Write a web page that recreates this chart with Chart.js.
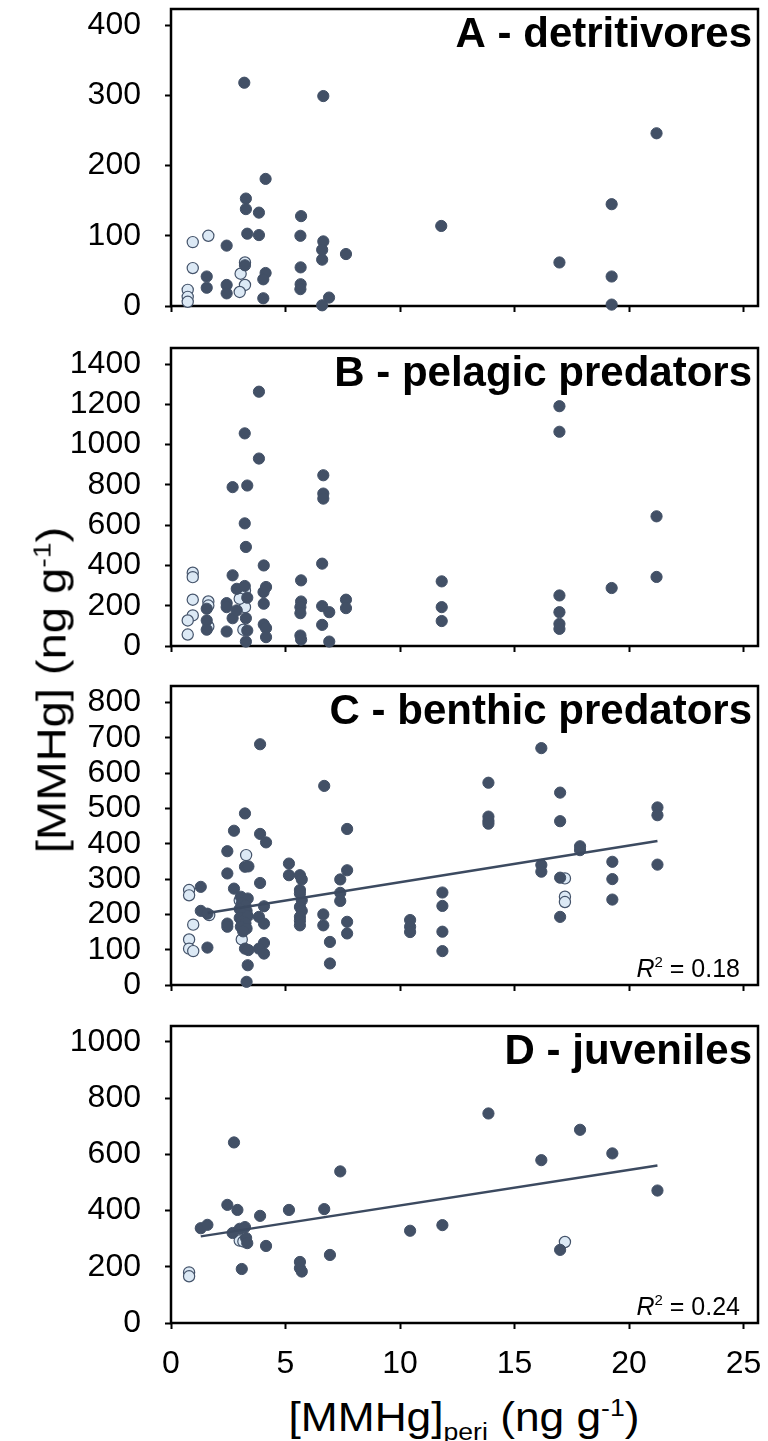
<!DOCTYPE html>
<html>
<head>
<meta charset="utf-8">
<script src="https://cdn.jsdelivr.net/npm/chart.js@4.4.1/dist/chart.umd.min.js"></script>
<style>
  body { margin: 0; background: #fff; }
  #page { position: relative; width: 768px; height: 1441px; font-family: "Liberation Sans", Arial, sans-serif; color: #000; }
  .panel { position: absolute; left: 0; width: 768px; }
  .ytitle { position: absolute; left: 52px; top: 690px; transform: translate(-50%, -50%) rotate(-90deg) scaleX(1.15); font-size: 41px; white-space: nowrap; line-height: 1; }
  .xtitle { position: absolute; left: 464px; top: 1397px; transform: translateX(-50%) scaleX(1.08); font-size: 41px; white-space: nowrap; line-height: 1; }
  sup, sub { font-size: 0.6em; line-height: 0; }
</style>
</head>
<body>
<div id="page">
  <div class="panel" id="wrap-a"><canvas id="chart-a"></canvas></div>
  <div class="panel" id="wrap-b"><canvas id="chart-b"></canvas></div>
  <div class="panel" id="wrap-c"><canvas id="chart-c"></canvas></div>
  <div class="panel" id="wrap-d"><canvas id="chart-d"></canvas></div>
  <div class="ytitle">[MMHg] (ng g<sup>-1</sup>)</div>
  <div class="xtitle">[MMHg]<sub>peri</sub> (ng g<sup>-1</sup>)</div>
</div>
<script>
const FONT = '"Liberation Sans", Arial, sans-serif';
const DARK = '#425066';
const LIGHT = '#dce9f5';

// x axis shared by all panels: [MMHg]peri
const xTicks = [0, 5, 10, 15, 20, 25];

// A - detritivores
const aDarkX = [3.2, 6.65, 4.13, 3.27, 3.27, 3.84, 5.68, 3.33, 3.84, 5.65, 2.43, 6.65, 6.6, 7.64, 6.6, 3.23, 1.56, 4.13, 4.03, 5.66, 5.66, 5.65, 1.56, 2.43, 2.43, 4.03, 6.9, 6.6, 11.8, 21.2, 19.24, 16.96, 19.24, 19.24];
const aDarkY = [318, 299, 181, 153, 138, 133, 128, 103, 101, 100, 86, 92, 80, 74, 66, 58, 42, 47, 38, 55, 31, 24, 26, 30, 18, 11, 12, 1, 114, 246, 145, 62, 42, 2];
const aLightX = [0.95, 1.63, 0.95, 0.73, 0.73, 0.73, 3.23, 3.04, 3.23, 3.0];
const aLightY = [91, 100, 54, 23, 13, 6, 62, 46, 30, 20];
const aTicks = [0, 100, 200, 300, 400];

// B - pelagic predators
const bDarkX = [3.84, 3.22, 3.84, 2.69, 3.33, 3.22, 3.27, 4.05, 6.65, 6.65, 6.65, 6.6, 2.69, 2.87, 3.22, 3.33, 4.04, 4.15, 4.05, 5.68, 5.68, 5.65, 5.65, 5.65, 5.68, 6.6, 6.91, 6.6, 6.91, 7.64, 7.64, 1.56, 1.56, 1.56, 2.43, 2.43, 2.69, 2.87, 2.43, 3.27, 3.33, 3.27, 4.05, 4.15, 4.15, 11.82, 11.82, 11.82, 16.96, 16.96, 21.2, 21.2, 19.24, 16.96, 16.96, 16.96, 16.96];
const bDarkY = [1263, 1056, 931, 789, 797, 609, 492, 400, 848, 757, 732, 409, 351, 284, 298, 240, 268, 293, 210, 326, 221, 193, 163, 52, 32, 198, 168, 105, 22, 230, 188, 185, 127, 81, 213, 193, 138, 177, 72, 138, 77, 22, 107, 89, 44, 321, 193, 124, 1191, 1064, 644, 343, 288, 251, 168, 110, 85];
const bLightX = [0.95, 0.95, 0.95, 0.95, 0.73, 0.73, 1.63, 1.63, 1.63, 3.09, 3.23, 3.23, 3.16, 3.0];
const bLightY = [364, 342, 230, 152, 127, 57, 221, 201, 97, 240, 276, 193, 81, 235];
const bTicks = [0, 200, 400, 600, 800, 1000, 1200, 1400];

// C - benthic predators
const cDarkX = [3.89, 6.69, 3.23, 2.75, 3.89, 4.15, 7.69, 2.46, 3.23, 3.38, 5.15, 5.15, 5.63, 5.71, 5.63, 5.63, 5.71, 5.63, 5.71, 5.63, 5.63, 5.63, 7.69, 7.39, 7.39, 7.39, 6.65, 6.65, 7.69, 7.69, 6.94, 6.94, 3.89, 1.30, 1.30, 1.59, 1.59, 2.46, 2.75, 2.46, 2.46,
  3.05, 3.35, 3.1, 3.25, 3.0, 3.3, 3.15, 3.0, 3.35, 3.1, 3.25, 3.05, 3.3, 3.15,
  4.06, 3.84, 4.06, 4.06, 3.84, 4.06, 3.23, 3.38, 3.35, 3.3, 10.44, 10.44, 10.44, 11.85, 11.85, 11.85, 11.85,
  16.17, 13.86, 13.86, 13.86, 13.86, 16.99, 16.99, 17.86, 17.86, 16.17, 16.17, 16.99, 16.99, 19.27, 19.27, 19.27, 21.24, 21.24, 21.24];
const cDarkY = [682, 564, 486, 437, 428, 404, 442, 379, 335, 336, 344, 311, 311, 299, 269, 259, 240, 221, 210, 193, 182, 169, 325, 299, 261, 238, 200, 169, 179, 146, 122, 61, 289, 278, 210, 202, 106, 316, 273, 174, 165,
  250, 245, 232, 225, 215, 210, 200, 190, 195, 180, 175, 165, 160, 152,
  223, 193, 174, 119, 103, 89, 103, 99, 56, 9, 184, 165, 150, 262, 224, 151, 96,
  671, 573, 477, 465, 457, 545, 464, 393, 382, 340, 321, 304, 193, 349, 300, 242, 503, 481, 341];
const cLightX = [17.2, 17.2, 17.2, 0.79, 0.79, 0.97, 0.79, 0.79, 0.97, 3.28, 3.09, 1.67, 3.0];
const cLightY = [302, 250, 235, 269, 254, 171, 129, 103, 96, 368, 129, 198, 240];
const cFitX = [1.6, 21.24];
const cFitY = [204, 408];
const cTicks = [0, 100, 200, 300, 400, 500, 600, 700, 800];

// D - juveniles
const dDarkX = [2.75, 7.39, 2.46, 2.9, 5.15, 6.69, 3.89, 1.30, 1.59, 3.0, 3.23, 2.69, 3.28, 3.33, 4.15, 3.09, 5.63, 5.63, 5.71, 6.94, 10.44, 11.85, 13.86, 17.86, 16.17, 19.27, 21.24, 16.99];
const dDarkY = [642, 539, 420, 402, 402, 405, 381, 337, 349, 335, 341, 320, 302, 284, 274, 192, 217, 195, 183, 242, 328, 348, 745, 687, 579, 603, 471, 260];
const dLightX = [0.79, 0.79, 3.0, 3.16, 17.2];
const dLightY = [180, 166, 293, 290, 288];
const dFitX = [1.3, 21.24];
const dFitY = [308, 560];
const dTicks = [0, 200, 400, 600, 800, 1000];

const pts = (xs, ys) => xs.map((x, i) => ({ x, y: ys[i] }));

// frame around the plot area, panel name and R² note
const panelPlugin = {
    id: 'panel',
    beforeDatasetsDraw(chart) {
        const { ctx, chartArea: a } = chart;
        ctx.save();
        ctx.strokeStyle = '#000';
        ctx.lineWidth = 2.5;
        ctx.strokeRect(a.left, a.top, a.right - a.left, a.bottom - a.top);
        ctx.restore();
    },
    afterDatasetsDraw(chart, args, opts) {
        const { ctx, chartArea: a } = chart;
        ctx.save();
        ctx.fillStyle = '#000';
        ctx.textBaseline = 'alphabetic';
        ctx.textAlign = 'right';
        ctx.font = `bold 42px ${FONT}`;
        ctx.fillText(opts.label, a.right - 6, a.top + 38);
        if (opts.r2) {
            const y = a.bottom - 8;
            let x = a.right - 18;
            const rest = ' = ' + opts.r2;
            ctx.font = `25px ${FONT}`;
            ctx.fillText(rest, x, y);
            x -= ctx.measureText(rest).width;
            ctx.font = `15px ${FONT}`;
            ctx.fillText('2', x, y - 10);
            x -= ctx.measureText('2').width;
            ctx.font = `italic 25px ${FONT}`;
            ctx.fillText('R', x, y);
        }
        ctx.restore();
    }
};

const makePanel = (key, p) => {
    const wrap = document.getElementById('wrap-' + key);
    const xAxisH = p.showX ? 70 : 24;
    wrap.style.top = (p.top - 9) + 'px';
    wrap.style.height = (p.height + 9 + xAxisH) + 'px';

    const datasets = [];
    if (p.fit) {
        datasets.push({
            data: p.fit, showLine: true, pointRadius: 0, borderColor: '#3c4a60',
            borderWidth: 2.5, order: 0, clip: false
        });
    }
    datasets.push({
        data: p.dark, backgroundColor: DARK, borderColor: DARK, borderWidth: 1,
        pointRadius: 5.6, order: 1, clip: false
    });
    datasets.push({
        data: p.light, backgroundColor: LIGHT, borderColor: '#44536a', borderWidth: 1.2,
        pointRadius: 5.6, order: 2, clip: false
    });

    new Chart(document.getElementById('chart-' + key), {
        type: 'scatter',
        data: { datasets },
        options: {
            responsive: true,
            maintainAspectRatio: false,
            animation: false,
            events: [],
            layout: { padding: { top: 9, right: 10, bottom: 0, left: 0 } },
            plugins: {
                legend: { display: false },
                tooltip: { enabled: false },
                panel: { label: p.label, r2: p.r2 }
            },
            scales: {
                x: {
                    type: 'linear', min: 0, max: 25.63,
                    afterBuildTicks: (s) => { s.ticks = xTicks.map(v => ({ value: v })); },
                    afterFit: (s) => { s.height = xAxisH; s.paddingLeft = 0; s.paddingRight = 0; },
                    ticks: { display: p.showX, autoSkip: false, maxRotation: 0, padding: 16, color: '#000', font: { size: 32, family: FONT }, callback: (v) => String(v) },
                    grid: { drawOnChartArea: false, tickLength: 6, tickWidth: 2, tickColor: '#000' },
                    border: { display: false }
                },
                y: {
                    type: 'linear', min: 0, max: p.yMax,
                    afterBuildTicks: (s) => { s.ticks = p.yTicks.map(v => ({ value: v })); },
                    afterFit: (s) => { s.width = 171; s.paddingTop = 0; s.paddingBottom = 0; },
                    ticks: { autoSkip: false, padding: 24, color: '#000', font: { size: 32, family: FONT }, callback: (v) => String(v) },
                    grid: { drawOnChartArea: false, tickLength: 6, tickWidth: 2, tickColor: '#000' },
                    border: { display: false }
                }
            }
        },
        plugins: [panelPlugin]
    });
};

makePanel('a', { top: 9, height: 297, yMax: 423, yTicks: aTicks, label: 'A - detritivores',
    dark: pts(aDarkX, aDarkY), light: pts(aLightX, aLightY) });
makePanel('b', { top: 348, height: 298, yMax: 1480, yTicks: bTicks, label: 'B - pelagic predators',
    dark: pts(bDarkX, bDarkY), light: pts(bLightX, bLightY) });
makePanel('c', { top: 686, height: 299, yMax: 847, yTicks: cTicks, label: 'C - benthic predators', r2: '0.18',
    dark: pts(cDarkX, cDarkY), light: pts(cLightX, cLightY), fit: pts(cFitX, cFitY) });
makePanel('d', { top: 1026, height: 297, yMax: 1056, yTicks: dTicks, label: 'D - juveniles', r2: '0.24', showX: true,
    dark: pts(dDarkX, dDarkY), light: pts(dLightX, dLightY), fit: pts(dFitX, dFitY) });
</script>
</body>
</html>
